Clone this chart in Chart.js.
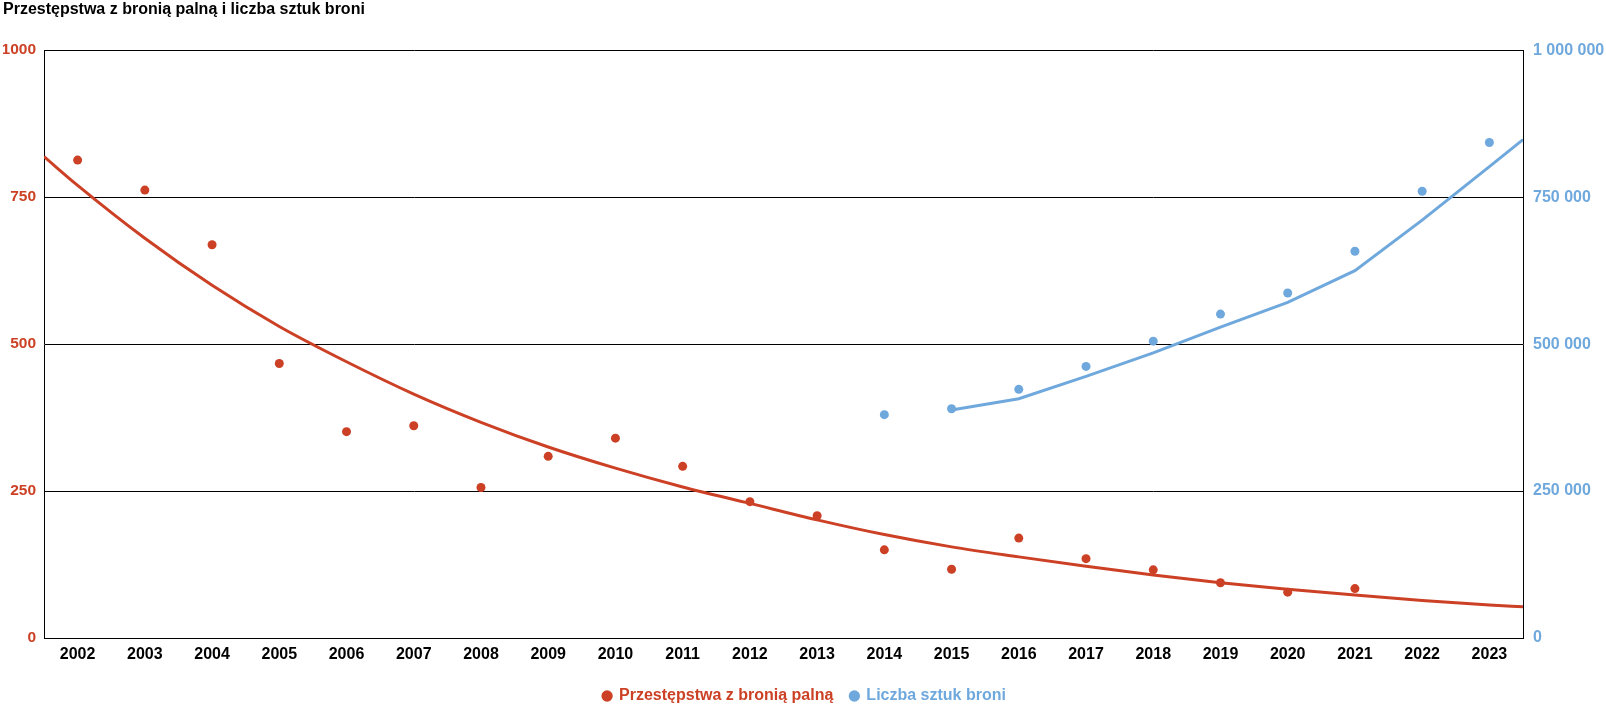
<!DOCTYPE html>
<html>
<head>
<meta charset="utf-8">
<script src="https://cdn.jsdelivr.net/npm/chart.js@4/dist/chart.umd.min.js"></script>
<style>
  html, body { margin: 0; padding: 0; background: #fff; }
  #wrap { width: 1606px; height: 706px; }
</style>
</head>
<body>
<div id="wrap"><canvas id="c" width="1606" height="706"></canvas></div>
<script>
const titleText = 'Przestępstwa z bronią palną i liczba sztuk broni';
const crimeLabel = 'Przestępstwa z bronią palną';
const weaponLabel = 'Liczba sztuk broni';

const years = [2002, 2003, 2004, 2005, 2006, 2007, 2008, 2009, 2010, 2011, 2012,
               2013, 2014, 2015, 2016, 2017, 2018, 2019, 2020, 2021, 2022, 2023];
const crimes = [813, 762, 669, 467, 351, 361, 256, 309, 340, 292, 232,
                208, 150, 117, 170, 135, 116, 94, 78, 84, null, null];
const weapons = [null, null, null, null, null, null, null, null, null, null, null,
                 null, 380000, 390000, 423000, 462000, 505000, 551000, 587000, 658000, 760000, 843000];

const crimeTrendX = [2001.5, 2002, 2003, 2004, 2005, 2006, 2007, 2008, 2009, 2010, 2011, 2012,
                     2013, 2014, 2015, 2016, 2017, 2018, 2019, 2020, 2021, 2022, 2023, 2023.5];
const crimeTrend = [819, 770, 680, 600, 530, 470, 415, 367, 325, 289, 257, 229,
                    201, 176, 155, 138, 122, 107, 94, 83, 73, 64, 56, 53];

const weaponTrendX = [2015, 2016, 2017, 2018, 2019, 2020, 2021, 2022, 2023, 2023.5];
const weaponTrend = [388000, 407000, 445000, 485000, 529000, 571000, 625000, 711000, 802000, 848000];

const leftTicks = [0, 250, 500, 750, 1000];
const rightTicks = [0, 250000, 500000, 750000, 1000000];

const RED = '#cc4125';
const BLUE = '#6fa8dc';
const FONT = "Arial, 'Liberation Sans', Helvetica, sans-serif";

const pts = (xs, ys) => xs.map((x, i) => ({x: x, y: ys[i]})).filter(p => p.y !== null);
const spaced = v => String(v).replace(/\B(?=(\d{3})+(?!\d))/g, ' ');

new Chart(document.getElementById('c'), {
  type: 'scatter',
  data: {
    datasets: [
      { label: crimeLabel, data: pts(years, crimes), yAxisID: 'y',
        backgroundColor: RED, borderColor: RED, pointRadius: 4.5, pointBorderWidth: 0, order: 0 },
      { label: weaponLabel, data: pts(years, weapons), yAxisID: 'y1',
        backgroundColor: BLUE, borderColor: BLUE, pointRadius: 4.5, pointBorderWidth: 0, order: 0 },
      { label: 'trend1', data: pts(crimeTrendX, crimeTrend), yAxisID: 'y', showLine: true,
        borderColor: RED, borderWidth: 3, pointRadius: 0, cubicInterpolationMode: 'monotone', order: 1 },
      { label: 'trend2', data: pts(weaponTrendX, weaponTrend), yAxisID: 'y1', showLine: true,
        borderColor: BLUE, borderWidth: 3, pointRadius: 0, tension: 0, order: 1 }
    ]
  },
  options: {
    responsive: false,
    animation: false,
    layout: { padding: { left: 3, right: 0, top: 0, bottom: -8 } },
    plugins: {
      tooltip: { enabled: false },
      title: {
        display: true, text: titleText, align: 'start', color: '#000',
        font: { family: FONT, size: 16, weight: 'bold' },
        padding: { top: 0, bottom: 31 }
      },
      legend: {
        position: 'bottom',
        labels: {
          usePointStyle: true, boxWidth: 8, boxHeight: 8, padding: 17,
          font: { family: FONT, size: 16, weight: 'bold' },
          generateLabels: () => [
            { text: crimeLabel, fillStyle: RED, strokeStyle: RED, fontColor: RED, lineWidth: 0, pointStyle: 'circle', datasetIndex: 0, hidden: false },
            { text: weaponLabel, fillStyle: BLUE, strokeStyle: BLUE, fontColor: BLUE, lineWidth: 0, pointStyle: 'circle', datasetIndex: 1, hidden: false }
          ]
        }
      }
    },
    scales: {
      x: {
        type: 'linear', min: 2001.5, max: 2023.5,
        afterBuildTicks: axis => { axis.ticks = years.map(v => ({ value: v })); },
        afterFit: axis => { axis.height = 33; },
        grid: { display: false, drawTicks: false },
        border: { display: true, color: '#000', width: 1 },
        ticks: { color: '#000', padding: 7, maxRotation: 0, autoSkip: false,
                 font: { family: FONT, size: 16, weight: 'bold' },
                 callback: v => String(v) }
      },
      y: {
        position: 'left', min: 0, max: 1000,
        afterBuildTicks: axis => { axis.ticks = leftTicks.map(v => ({ value: v })); },
        afterFit: axis => { axis.width = 41; },
        grid: { color: '#000', lineWidth: 1, drawTicks: false },
        border: { display: true, color: '#000', width: 1 },
        ticks: { color: RED, padding: 8, font: { family: FONT, size: 15.5, weight: 'bold' },
                 callback: v => String(v) }
      },
      y1: {
        position: 'right', min: 0, max: 1000000,
        afterBuildTicks: axis => { axis.ticks = rightTicks.map(v => ({ value: v })); },
        afterFit: axis => { axis.width = 83; },
        grid: { display: false, drawTicks: false },
        border: { display: true, color: '#000', width: 1 },
        ticks: { color: BLUE, padding: 10, font: { family: FONT, size: 16, weight: 'bold' },
                 callback: v => spaced(v) }
      }
    }
  }
});
</script>
</body>
</html>
